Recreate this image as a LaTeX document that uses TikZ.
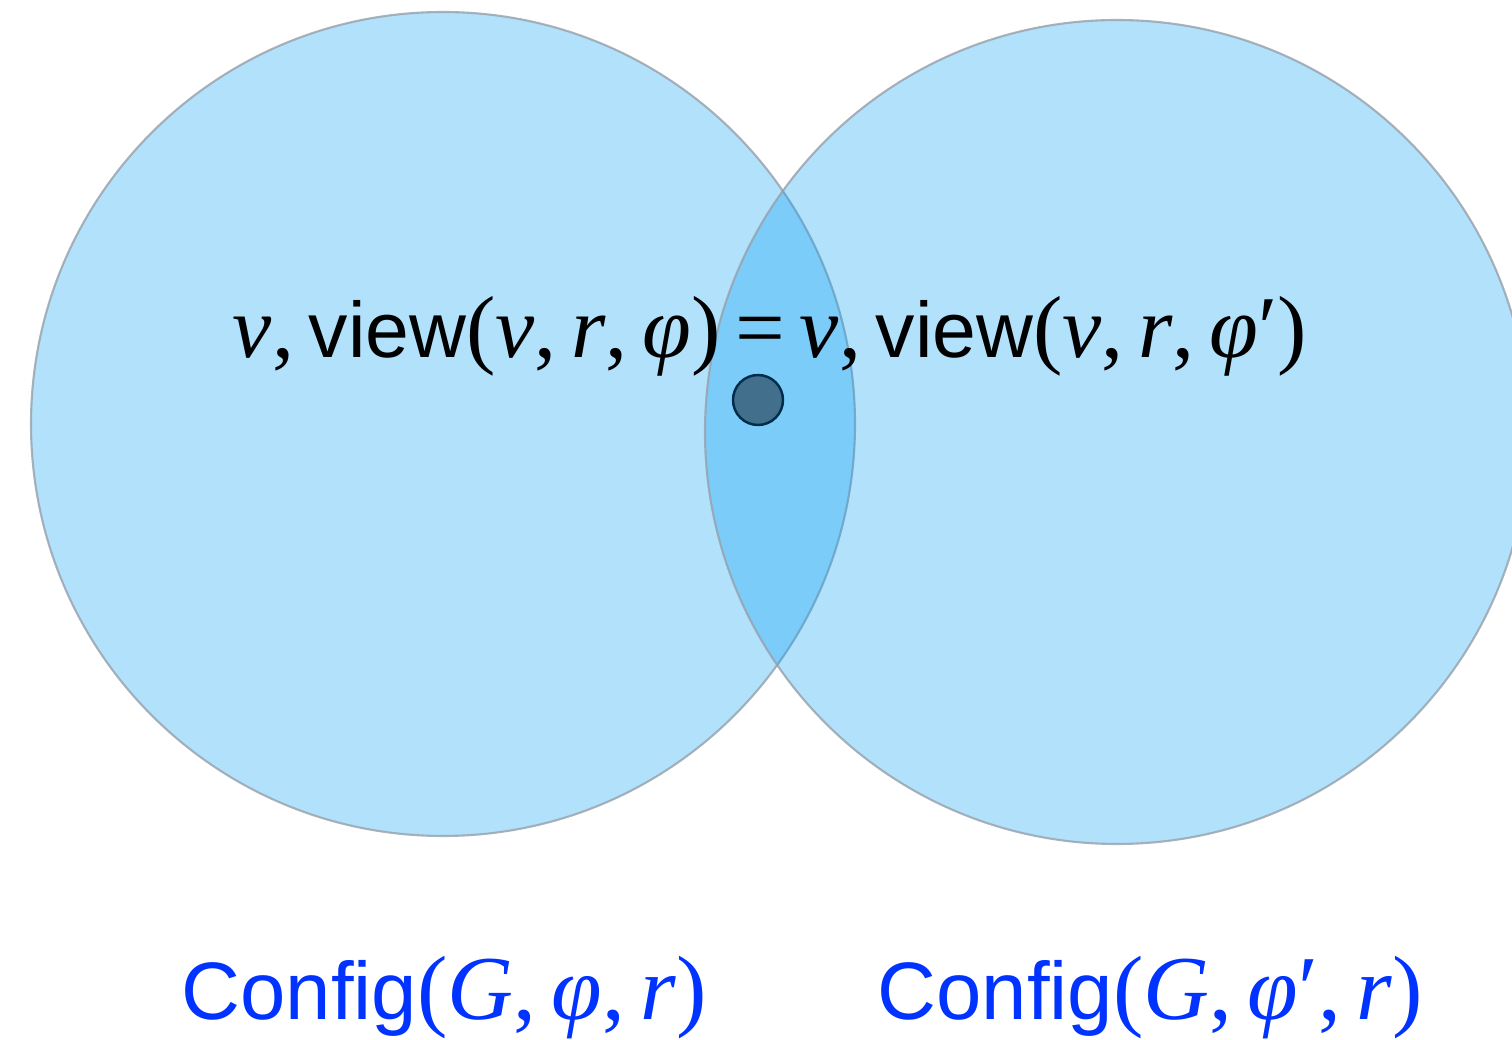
\documentclass[tikz,border=0pt]{standalone}
\usepackage{fontspec}
\setmainfont{Liberation Sans}
\newfontfamily\timesfont[Scale=1.12]{Liberation Serif}
\usepackage{xcolor}
\usepackage{tikz}
\usetikzlibrary{positioning}
\definecolor{setblue}{RGB}{0,155,245}
\definecolor{setrim}{RGB}{150,160,170}
\definecolor{dotfill}{RGB}{66,111,140}
\definecolor{dotrim}{RGB}{0,45,75}
\definecolor{cfgblue}{RGB}{0,51,255}
\newcommand{\mth}[1]{{\timesfont #1}}
\newcommand{\mv}[1]{\textit{#1}}

\begin{document}
\begin{tikzpicture}[
    setdisk/.style={circle, minimum size=8.24cm, inner sep=0pt, fill=setblue, fill opacity=0.3, draw=setrim, draw opacity=0.8, line width=0.6pt},
    pointdot/.style={circle, minimum width=0.5cm, minimum height=0.48cm, inner sep=0pt, fill=dotfill, draw=dotrim, line width=0.7pt},
    eqlabel/.style={font=\fontsize{22.4}{25}\selectfont, anchor=base, inner sep=0pt},
    cfglabel/.style={font=\fontsize{23.2}{26}\selectfont, text=cfgblue, anchor=base, inner sep=0pt}
]
\useasboundingbox (0,0) rectangle (15.12,-10.4);

\node[setdisk] (leftset) at (4.43,-4.24) {};
\node[setdisk] (rightset) at (11.17,-4.32) {};
\node[pointdot] (vertex) at (7.58,-4.00) {};

\node[eqlabel] (viewseq) at (7.70,-3.58)
    {\mth{\mv{v},\,}view\mth{(\mv{v},\,\mv{r},\,\mv{φ})\,=\,\mv{v},\,}view\mth{(\mv{v},\,\mv{r},\,\mv{φ}′)}};

\node[cfglabel] (leftcfg) at (4.44,-10.20) {Config\mth{(\mv{G},\,\mv{φ},\,\mv{r})}};
\node[cfglabel] (rightcfg) at (11.50,-10.20) {Config\mth{(\mv{G},\,\mv{φ}′,\,\mv{r})}};
\end{tikzpicture}
\end{document}
